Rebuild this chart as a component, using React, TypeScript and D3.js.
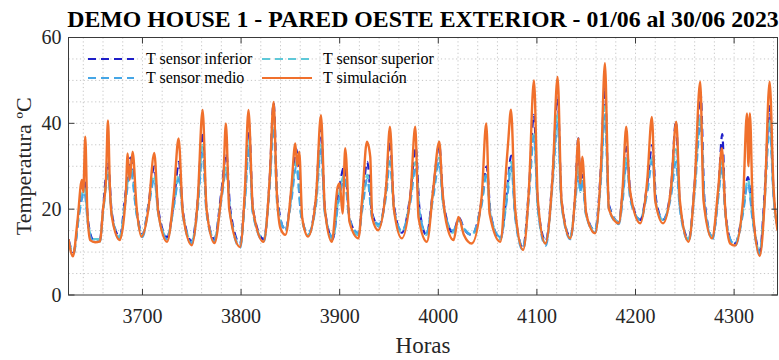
import React from "react";
import * as d3 from "d3";

// Simulation (orange) key points
const hoursSim = [
  3625, 3629.5, 3634, 3638.6, 3640, 3642, 3644, 3647, 3652, 3657,
  3660, 3663, 3665, 3667, 3669, 3677,
  3683, 3685, 3687, 3690, 3694, 3699,
  3706, 3712, 3716, 3725,
  3732, 3736.6, 3741, 3750,
  3756, 3761, 3765, 3773,
  3780, 3782, 3784.6, 3788, 3799,
  3804, 3807.5, 3812, 3822.8,
  3829, 3833, 3836, 3840, 3845,
  3851, 3855, 3857, 3859, 3862, 3868,
  3876, 3881, 3885, 3892,
  3898, 3900, 3903, 3905.6, 3910, 3919,
  3923, 3927.6, 3931, 3933, 3939,
  3947, 3951, 3955, 3963,
  3972, 3976.6, 3980, 3988.5,
  3995, 4001, 4004, 4008, 4015.5,
  4020.5, 4026, 4034,
  4044, 4048.6, 4052, 4063,
  4069, 4071, 4073.7, 4078, 4086,
  4092, 4097, 4101, 4108.5,
  4116, 4121, 4125, 4133.8,
  4139, 4142, 4144, 4146, 4150, 4159,
  4165, 4169, 4173, 4183,
  4187, 4190.6, 4194, 4204.8,
  4212, 4216.6, 4220, 4228,
  4236, 4241.3, 4245, 4253.8,
  4260, 4265.6, 4269, 4277.5,
  4284, 4287.6, 4291, 4296, 4301,
  4309, 4313, 4314.5, 4316, 4319, 4326,
  4331, 4336, 4340, 4344,
];
const tSim = [
  13, 9, 17, 26.8, 24, 36.9, 20, 12.8, 12.3, 12.5,
  20, 26.8, 40.7, 25, 18.2, 12.8,
  22.9, 33, 26.8, 33.4, 20.6, 13.6,
  20, 33.1, 19.3, 12.4,
  24, 36.5, 19, 11.6,
  22, 43.1, 20, 12.1,
  23, 27, 40, 20, 11.2,
  25, 43.1, 20, 12.4,
  27, 45, 25, 15.5, 14,
  25, 35.3, 30, 33.4, 18, 13.6,
  22.9, 41.9, 20, 12.4,
  25.2, 26, 19, 34.2, 17, 13.2,
  22.9, 35.7, 32.2, 18, 15.1,
  25, 39.2, 20, 13.2,
  24, 39.2, 18, 12.4,
  25, 35.7, 25, 17, 12.8,
  18.2, 14, 12,
  22.9, 40, 19, 12.4,
  30, 36, 43.2, 20, 10.5,
  25, 50, 22, 12,
  28, 50.8, 22, 13.2,
  24, 36.5, 26, 32.2, 19, 14.4,
  30, 54, 20, 16.7,
  25, 39.2, 25, 16.7,
  27, 41.5, 22, 16.7,
  25, 40.4, 22, 12.4,
  26, 49.7, 22, 13.2,
  25, 34.2, 20, 12, 11.5,
  22, 42.3, 30, 42.3, 20, 9.1,
  22, 49.7, 25, 15,
];

// Sensor key points
const hoursSensor = [
  3625, 3630,
  3636, 3641, 3645, 3650, 3657,
  3660, 3665, 3669, 3677,
  3683, 3688, 3694, 3700,
  3706, 3712, 3716, 3725,
  3732, 3737, 3741, 3750,
  3756, 3761, 3765, 3773,
  3780, 3785, 3789, 3799,
  3804, 3808, 3812, 3823,
  3829, 3833, 3837, 3845,
  3851, 3856, 3861, 3868,
  3876, 3881, 3885, 3893,
  3899, 3905, 3910, 3919,
  3923, 3928, 3933, 3940,
  3947, 3951, 3955, 3963,
  3972, 3977, 3981, 3988,
  3995, 4001, 4005, 4015,
  4021, 4026, 4034,
  4044, 4049, 4053, 4063,
  4070, 4074, 4078, 4086,
  4092, 4097, 4101, 4109,
  4116, 4121, 4125, 4134,
  4139, 4142, 4144, 4146, 4150, 4159,
  4165, 4169, 4173, 4183,
  4187, 4191, 4195, 4205,
  4212, 4217, 4221, 4228,
  4236, 4241, 4245, 4254,
  4260, 4266, 4270, 4278,
  4284, 4288, 4291, 4297, 4301,
  4309, 4314, 4319, 4326,
  4331, 4336, 4340, 4344,
];
const tInferior = [
  13, 10,
  20, 27, 17, 13, 13,
  20, 31, 19, 13.5,
  24, 32, 20, 14,
  21, 30, 20, 13.5,
  22, 31, 19.5, 12.5,
  22, 38, 20, 13,
  24, 33, 20, 12,
  24, 40, 20, 13,
  27, 44.7, 22, 15,
  24, 34, 19, 14,
  23, 39, 20, 13,
  24, 30, 18, 14,
  22, 31, 19, 16,
  25, 36, 21, 14.5,
  24, 34.5, 20, 14,
  25, 35, 22, 14.5,
  18, 15.5, 14,
  22, 30, 19, 13,
  25, 32.5, 19, 11,
  25, 42, 21, 12.5,
  28, 46, 22, 13.5,
  24, 36.5, 25, 28, 19, 15,
  30, 48.5, 21, 17,
  24, 34.5, 23, 17.5,
  26, 35, 22, 17.5,
  25, 40.4, 21, 13,
  26, 47, 22, 13.5,
  24, 37.5, 20, 12.5, 12,
  20, 27.5, 18, 10,
  24, 44, 24, 16,
];
const tMedio = [
  12, 9.5,
  19, 24, 16, 12.5, 12.5,
  19, 28, 18.5, 13,
  22, 29, 19, 13.5,
  20, 27, 19, 13,
  21, 27, 18.5, 12,
  20, 33, 19, 12.5,
  22, 29, 19, 11,
  22, 34, 19, 12.5,
  25, 39, 20, 15.5,
  22, 30, 18.5, 14.5,
  21, 34, 19, 13.5,
  22, 27, 17.5, 14.5,
  20, 27, 18, 16.5,
  23, 31, 20, 15,
  22, 30, 19, 14.5,
  23, 31, 21, 15,
  17.5, 15.5, 14,
  21, 28, 18.5, 13.5,
  23, 30, 18, 10.5,
  23, 37, 20, 11.5,
  26, 40, 21, 13,
  22, 28, 24, 27, 18.5, 14.5,
  27, 42, 20, 16.5,
  22, 31, 22, 17.5,
  24, 31, 21, 17.5,
  23, 31, 20, 12.5,
  24, 40, 21, 13,
  23, 30, 19, 12.5, 11.5,
  19, 26, 17, 9.5,
  22, 39, 23, 15.5,
];
const tSuperior = [
  12.5, 10,
  19.5, 25, 16.5, 13, 13,
  19, 29, 18.5, 13.5,
  23, 30, 19, 14,
  20.5, 28, 19, 13.5,
  21, 28, 19, 12.5,
  21, 35, 19.5, 13,
  23, 30, 19, 11.5,
  23, 36, 19, 13,
  26, 41, 21, 15,
  23, 31, 18.5, 14,
  22, 35, 19.5, 13,
  23, 28, 17.5, 14,
  21, 28, 18.5, 16,
  24, 32, 20, 14.5,
  23, 31, 19, 14,
  24, 32, 21, 14.5,
  17.5, 15.5, 14,
  21.5, 28.5, 18.5, 13,
  24, 31, 18.5, 11,
  24, 38, 20, 12,
  27, 42, 21, 13.5,
  23, 30, 24, 27, 18.5, 15,
  28, 44, 20.5, 17,
  23, 32, 22, 17.5,
  25, 32, 21, 17.5,
  24, 34, 20.5, 13,
  25, 42, 21, 13.5,
  23, 31, 19.5, 12.5, 12,
  19.5, 27, 17.5, 10,
  23, 41, 23, 16,
];

const xTicks = [3700, 3800, 3900, 4000, 4100, 4200, 4300];
const yTicks = [0, 20, 40, 60];
const seriesNames = ["T sensor inferior", "T sensor superior", "T sensor medio", "T simulación"];
const seriesColors = ["#1e1ec8", "#5ec8d8", "#45a6e6", "#f0702c"];

export default function App() {
  const width = 779;
  const height = 360;
  const left = 68.5;
  const right = 777.5;
  const top = 37.5;
  const bottom = 295;
  const x = d3.scaleLinear().domain([3625, 4344]).range([left, right]);
  const y = d3.scaleLinear().domain([0, 60]).range([bottom, top]);

  const sensorLine = (vals: number[]) =>
    d3
      .line<number>()
      .x((_, i) => x(hoursSensor[i]))
      .y((d) => y(d))
      .curve(d3.curveMonotoneX)(vals) || "";
  const simLine =
    d3
      .line<number>()
      .x((_, i) => x(hoursSim[i]))
      .y((d) => y(d))
      .curve(d3.curveMonotoneX)(tSim) || "";

  const xGrid = d3.range(3640, 4344, 20);
  const yGrid = d3.range(5, 60, 5);
  const font = "'Liberation Serif', 'Times New Roman', serif";
  const axisColor = "#3a3a3a";

  const legendItems = [
    { name: seriesNames[0], color: seriesColors[0], x0: 88, x1: 134, tx: 146, ty: 59, dash: "8,5" },
    { name: seriesNames[1], color: seriesColors[1], x0: 262, x1: 312, tx: 323, ty: 59, dash: "8,5" },
    { name: seriesNames[2], color: seriesColors[2], x0: 88, x1: 134, tx: 146, ty: 78, dash: "8,5" },
    { name: seriesNames[3], color: seriesColors[3], x0: 262, x1: 312, tx: 323, ty: 78, dash: "" },
  ];

  return (
    <div style={{ position: "absolute", left: 0, top: 0 }}>
      <svg width={width} height={height} style={{ display: "block", background: "#fff" }}>
        <defs>
          <clipPath id="plotclip">
            <rect x={left} y={top} width={right - left} height={bottom - top} />
          </clipPath>
        </defs>
        <rect x={0} y={0} width={width} height={height} fill="#fff" />
        {/* grid */}
        <g stroke="#b8b8b8" strokeWidth={0.8} strokeDasharray="1.2,2.6">
          {xGrid.map((g) => (
            <line key={"gx" + g} x1={x(g)} x2={x(g)} y1={top} y2={bottom} />
          ))}
          {yGrid.map((g) => (
            <line key={"gy" + g} x1={left} x2={right} y1={y(g)} y2={y(g)} />
          ))}
        </g>
        {/* data */}
        <g clipPath="url(#plotclip)" fill="none" strokeLinejoin="round">
          <path d={sensorLine(tInferior)} stroke={seriesColors[0]} strokeWidth={2.2} strokeDasharray="8,5" />
          <path d={sensorLine(tSuperior)} stroke={seriesColors[1]} strokeWidth={2.2} strokeDasharray="8,5" />
          <path d={sensorLine(tMedio)} stroke={seriesColors[2]} strokeWidth={2.2} strokeDasharray="8,5" />
          <path d={simLine} stroke={seriesColors[3]} strokeWidth={2.4} />
        </g>
        {/* axes box */}
        <rect x={left} y={top} width={right - left} height={bottom - top} fill="none" stroke={axisColor} strokeWidth={1} />
        {xTicks.map((t) => (
          <g key={"xt" + t}>
            <line x1={x(t)} x2={x(t)} y1={bottom} y2={bottom - 6} stroke={axisColor} />
            <line x1={x(t)} x2={x(t)} y1={top} y2={top + 6} stroke={axisColor} />
            <text x={x(t)} y={bottom + 28} textAnchor="middle" fontFamily={font} fontSize={20} fill="#262626">
              {t}
            </text>
          </g>
        ))}
        {yTicks.map((t) => (
          <g key={"yt" + t}>
            <line x1={left} x2={left + 6} y1={y(t)} y2={y(t)} stroke={axisColor} />
            <line x1={right} x2={right - 6} y1={y(t)} y2={y(t)} stroke={axisColor} />
            <text x={left - 7} y={y(t) + 6.5} textAnchor="end" fontFamily={font} fontSize={20} fill="#262626">
              {t}
            </text>
          </g>
        ))}
        {/* legend */}
        {legendItems.map((it) => (
          <g key={it.name}>
            <line
              x1={it.x0}
              x2={it.x1}
              y1={it.ty}
              y2={it.ty}
              stroke={it.color}
              strokeWidth={2}
              strokeDasharray={it.dash || undefined}
            />
            <text x={it.tx} y={it.ty + 5} fontFamily={font} fontSize={16} fill="#000">
              {it.name}
            </text>
          </g>
        ))}
        {/* titles */}
        <text x={423} y={27} textAnchor="middle" fontFamily={font} fontSize={23.8} fontWeight="bold" fill="#000">
          DEMO HOUSE 1 - PARED OESTE EXTERIOR - 01/06 al 30/06 2023
        </text>
        <text x={423} y={353} textAnchor="middle" fontFamily={font} fontSize={23} fill="#262626">
          Horas
        </text>
        <text
          transform={`translate(31, ${(top + bottom) / 2}) rotate(-90)`}
          textAnchor="middle"
          fontFamily={font}
          fontSize={22}
          fill="#262626"
        >
          Temperatura ºC
        </text>
      </svg>
    </div>
  );
}
